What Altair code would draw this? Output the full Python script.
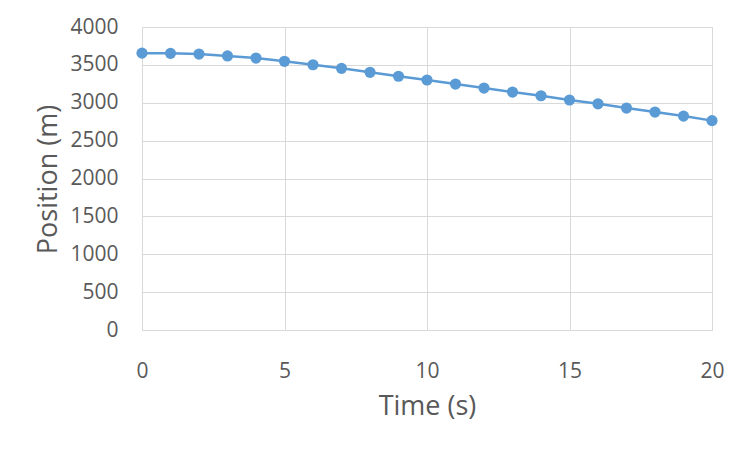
import altair as alt
import pandas as pd

time_s = list(range(0, 21))
position_m = [3655, 3652, 3643, 3618, 3590, 3547, 3502, 3454, 3402, 3350, 3300,
              3247, 3194, 3141, 3092, 3036, 2986, 2930, 2877, 2824, 2764]
x_ticks = [0, 5, 10, 15, 20]
y_ticks = [0, 500, 1000, 1500, 2000, 2500, 3000, 3500, 4000]

df = pd.DataFrame({"t": time_s, "p": position_m})

FONT = "Open Sans"
LABEL_COLOR = "#595959"
GRID = "#d9d9d9"
BLUE = "#5b9bd5"

x = alt.X("t:Q", scale=alt.Scale(domain=[0, 20], nice=False),
          axis=alt.Axis(title="Time (s)", values=x_ticks, format="d",
                        grid=True, gridColor=GRID, gridWidth=1, domain=False, ticks=False,
                        labelFont=FONT, labelFontSize=21, labelColor=LABEL_COLOR,
                        labelPadding=41, labelBaseline="middle", labelFlush=False,
                        labelOverlap=False,
                        titleFont=FONT, titleFontSize=27, titleColor=LABEL_COLOR,
                        titleFontWeight="normal", titleX=285, titleY=76,
                        titleBaseline="middle", titleAlign="center"))
y = alt.Y("p:Q", scale=alt.Scale(domain=[0, 4000], nice=False),
          axis=alt.Axis(title="Position (m)", values=y_ticks, format="d",
                        grid=True, gridColor=GRID, gridWidth=1, domain=False, ticks=False,
                        labelFont=FONT, labelFontSize=21, labelColor=LABEL_COLOR,
                        labelPadding=24, labelFlush=False, labelOverlap=False,
                        titleFont=FONT, titleFontSize=27, titleColor=LABEL_COLOR,
                        titleFontWeight="normal", titleX=-94, titleY=152,
                        titleAngle=270, titleBaseline="middle", titleAlign="center"))

line = alt.Chart(df).mark_line(color=BLUE, strokeWidth=2.5).encode(x=x, y=y)
pts = alt.Chart(df).mark_point(filled=True, color=BLUE, size=125, opacity=1).encode(x=x, y=y)

chart = (line + pts).properties(
    width=570, height=303,
    autosize=alt.AutoSizeParams(type="none"),
    padding={"left": 134, "top": 19, "right": 29, "bottom": 110},
).configure_view(stroke=None).configure(background="white")

chart.save("out.html", embed_options={"renderer": "svg", "actions": False})
